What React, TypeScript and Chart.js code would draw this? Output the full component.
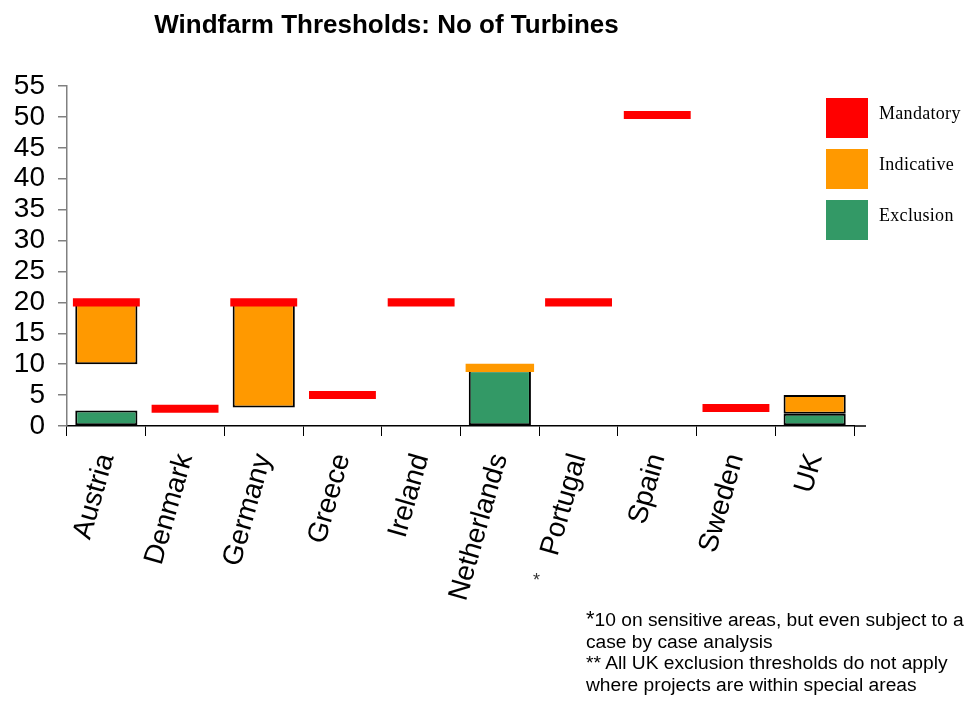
import React, { useEffect, useRef } from "react";
import { Chart, registerables } from "chart.js";

Chart.register(...registerables);

const categories = ["Austria", "Denmark", "Germany", "Greece", "Ireland", "Netherlands", "Portugal", "Spain", "Sweden", "UK"];
const mandatory: (number | null)[] = [20, 2.8, 20, 5, 20, null, 20, 50.3, 2.9, null];
const indicativeLine: (number | null)[] = [null, null, null, null, null, 9.4, null, null, null, null];
const indicativeLow: (number | null)[] = [10, null, 3, null, null, null, null, null, null, 2];
const indicativeHigh: (number | null)[] = [20, null, 20, null, null, null, null, null, null, 5];
const exclusion: (number | null)[] = [2.5, null, null, null, null, 9, null, null, null, 2];
const yMin = 0;
const yMax = 55;
const yStep = 5;
const legendItems = ["Mandatory", "Indicative", "Exclusion"];
const footnotes = [
  "case by case analysis",
  "** All UK exclusion thresholds do not apply",
  "where projects are within special areas",
];

const RED = "#FF0000";
const ORANGE = "#FF9900";
const GREEN = "#339966";
const legendColors = [RED, ORANGE, GREEN];
const HALF = 0.65;

const asLine = (arr: (number | null)[]) => arr.map((v) => (v == null ? null : [v - HALF, v + HALF]));

const axisExtend = {
  id: "axisExtend",
  afterDraw(chart: any) {
    const { ctx, chartArea } = chart;
    ctx.save();
    ctx.strokeStyle = "#000";
    ctx.lineWidth = 1.5;
    ctx.beginPath();
    ctx.moveTo(chartArea.right, chartArea.bottom);
    ctx.lineTo(chartArea.right + 12, chartArea.bottom);
    ctx.stroke();
    ctx.restore();
  },
};

export default function App() {
  const ref = useRef<HTMLCanvasElement | null>(null);

  useEffect(() => {
    if (!ref.current) return;
    const font = "'Liberation Sans', Arial, sans-serif";
    const chart = new Chart(ref.current, {
      type: "bar",
      data: {
        labels: categories,
        datasets: [
          {
            label: "Mandatory",
            data: asLine(mandatory) as any,
            backgroundColor: RED,
            borderWidth: 0,
            grouped: false,
            barPercentage: 0.85,
            categoryPercentage: 1,
          },
          {
            label: "Indicative threshold",
            data: asLine(indicativeLine) as any,
            backgroundColor: ORANGE,
            borderWidth: 0,
            grouped: false,
            barPercentage: 0.87,
            categoryPercentage: 1,
          },
          {
            label: "Indicative",
            data: indicativeLow.map((v, i) => (v == null ? null : [v, indicativeHigh[i] as number])) as any,
            backgroundColor: ORANGE,
            borderColor: "#000",
            borderWidth: 2,
            borderSkipped: false,
            grouped: false,
            barPercentage: 0.79,
            categoryPercentage: 1,
          },
          {
            label: "Exclusion",
            data: exclusion.map((v) => (v == null ? null : [0, v])) as any,
            backgroundColor: GREEN,
            borderColor: "#000",
            borderWidth: 2,
            borderSkipped: false,
            grouped: false,
            barPercentage: 0.79,
            categoryPercentage: 1,
          },
        ],
      },
      options: {
        responsive: false,
        animation: false,
        devicePixelRatio: 1,
        layout: { padding: { top: 86, left: 0, right: 118, bottom: 0 } },
        plugins: {
          legend: { display: false },
          tooltip: { enabled: false },
          title: { display: false },
        },
        scales: {
          x: {
            ticks: {
              autoSkip: false,
              maxRotation: 74,
              minRotation: 74,
              color: "#000",
              padding: 14,
              font: { family: font, size: 28 },
            },
            grid: { drawOnChartArea: false, offset: true, tickLength: 10, color: "#000" },
            border: { color: "#000", width: 1.5 },
            afterFit: (s: any) => {
              s.height = 278;
            },
          },
          y: {
            min: yMin,
            max: yMax,
            ticks: {
              stepSize: yStep,
              autoSkip: false,
              color: "#000",
              padding: 13,
              font: { family: font, size: 28 },
            },
            grid: { drawOnChartArea: false, tickLength: 9, color: "#808080", lineWidth: 1.5 },
            border: { color: "#808080", width: 1.5 },
            afterFit: (s: any) => {
              s.width = 67;
            },
          },
        },
      },
      plugins: [axisExtend],
    });
    return () => chart.destroy();
  }, []);

  const sans = "'Liberation Sans', Arial, sans-serif";
  return (
    <div style={{ position: "fixed", left: 0, top: 0, width: 972, height: 704, background: "#fff" }}>
      <canvas ref={ref} width={972} height={704} style={{ position: "absolute", left: 0, top: 0 }} />
      <div
        style={{
          position: "absolute",
          left: 0,
          top: 9,
          width: 773,
          textAlign: "center",
          fontFamily: sans,
          fontWeight: "bold",
          fontSize: 26,
          color: "#000",
          whiteSpace: "nowrap",
        }}
      >
        Windfarm Thresholds: No of Turbines
      </div>
      {legendItems.map((t, i) => (
        <div key={t}>
          <div
            style={{
              position: "absolute",
              left: 826,
              top: 98 + i * 51,
              width: 42,
              height: 40,
              background: legendColors[i],
            }}
          />
          <div
            style={{
              position: "absolute",
              left: 879,
              top: 103 + i * 51,
              fontFamily: "'Liberation Serif', 'Times New Roman', serif",
              fontSize: 18,
              lineHeight: "20px",
              color: "#000",
              letterSpacing: 0.3,
            }}
          >
            {t}
          </div>
        </div>
      ))}
      <div style={{ position: "absolute", left: 533, top: 570, fontFamily: sans, fontSize: 18, color: "#333" }}>*</div>
      <div
        style={{
          position: "absolute",
          left: 586,
          top: 609,
          fontFamily: sans,
          fontSize: 19.2,
          lineHeight: "21.7px",
          color: "#000",
          whiteSpace: "nowrap",
        }}
      >
        <div>
          <span style={{ fontSize: 22, lineHeight: "10px" }}>*</span>10 on sensitive areas, but even subject to a
        </div>
        {footnotes.map((f) => (
          <div key={f}>{f}</div>
        ))}
      </div>
    </div>
  );
}
